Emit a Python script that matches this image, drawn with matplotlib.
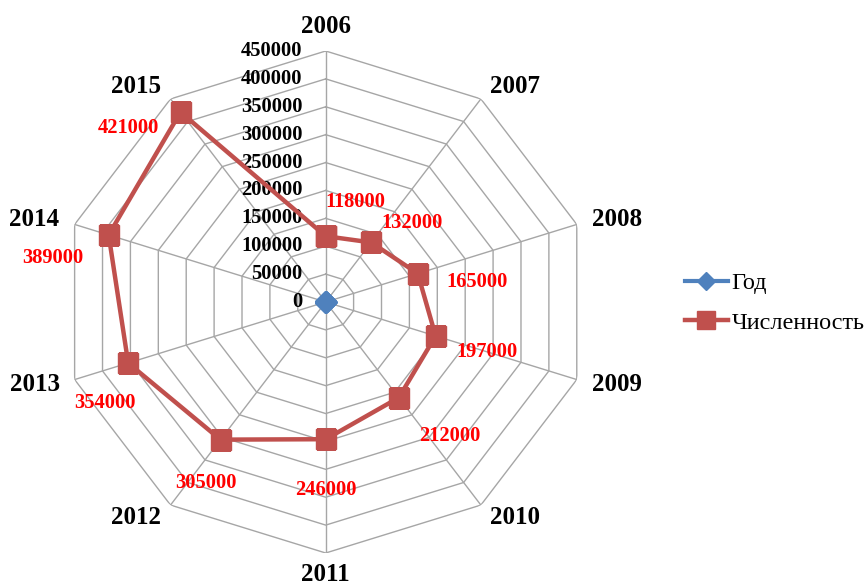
import numpy as np
import matplotlib
matplotlib.use("Agg")
import matplotlib.pyplot as plt
from matplotlib.lines import Line2D

plt.rcParams['font.family'] = ['Liberation Serif', 'DejaVu Serif']

categories = ['2006', '2007', '2008', '2009', '2010', '2011', '2012', '2013', '2014', '2015']
god = [2006, 2007, 2008, 2009, 2010, 2011, 2012, 2013, 2014, 2015]
chislennost = [118000, 132000, 165000, 197000, 212000, 246000, 305000, 354000, 389000, 421000]
ticks = [0, 50000, 100000, 150000, 200000, 250000, 300000, 350000, 400000, 450000]
series_names = ['Год', 'Численность']

# label offsets in pixels (styling)
label_offsets = [(30, 34), (41, 19), (59, -8), (51, -16), (51, -38), (0, -51),
                 (-15, -43), (-23, -40), (-56, -23), (-52, -16)]

W, H = 865, 588
fig = plt.figure(figsize=(W / 100, H / 100), dpi=100)
cx, cy, rx, ry = 325.7, 302.0, 264.0, 251.0
ax = fig.add_axes([(cx - rx) / W, (H - cy - ry) / H, 2 * rx / W, 2 * ry / H], projection='polar')
ax.set_aspect('auto')
ax.set_theta_offset(np.pi / 2)
ax.set_theta_direction(-1)
rmax = ticks[-1]
ax.set_ylim(0, rmax)
ax.grid(False)
ax.spines['polar'].set_visible(False)
ax.set_xticks([])
ax.set_yticks([])
ax.patch.set_visible(False)

n = len(categories)
theta = np.arange(n) * 2 * np.pi / n
theta_c = np.append(theta, theta[0])

gridc = '#A6A6A6'
for t in ticks[1:]:
    ax.plot(theta_c, [t] * (n + 1), color=gridc, lw=1.0, zorder=1)
for th in theta:
    ax.plot([th, th], [0, rmax], color=gridc, lw=1.0, zorder=1)

# tick labels
for t in ticks:
    ax.annotate(f'{t}', xy=(0, t), xytext=(-23, 0), textcoords='offset pixels',
                ha='right', va='center', fontsize=14.8, fontweight='bold', color='black',
                annotation_clip=False)

# category labels
for i, (th, lab) in enumerate(zip(theta, categories)):
    s = np.sin(th)
    if abs(s) < 1e-6:
        if np.cos(th) > 0:
            ax.text(th, rmax * 1.05, lab, ha='center', va='bottom', fontsize=18, fontweight='bold')
        else:
            ax.text(th, rmax * 1.04, lab, ha='center', va='top', fontsize=18, fontweight='bold')
    else:
        ha = 'left' if s > 0 else 'right'
        ax.text(th, rmax * 1.06, lab, ha=ha, va='center', fontsize=18, fontweight='bold')

blue = '#4F81BD'
red = '#C0504D'
ax.plot(theta_c, god + god[:1], color=blue, lw=3, marker='D', ms=10, zorder=3)
ax.plot(theta_c, chislennost + chislennost[:1], color=red, lw=3.2, marker='s', ms=14, zorder=4)

for th, v, off in zip(theta, chislennost, label_offsets):
    ax.annotate(f'{v}', xy=(th, v), xytext=off, textcoords='offset pixels',
                ha='center', va='center', fontsize=14.8, fontweight='bold', color='red',
                annotation_clip=False)

handles = [Line2D([], [], color=blue, lw=3, marker='D', ms=9),
           Line2D([], [], color=red, lw=3.2, marker='s', ms=13)]
fig.legend(handles, series_names, loc='center left', bbox_to_anchor=(673 / W, 1 - 303 / H),
           frameon=False, fontsize=17.5, handlelength=1.75, handletextpad=0.15, labelspacing=0.7,
           borderpad=0)

fig.savefig('out.png', dpi=100)
